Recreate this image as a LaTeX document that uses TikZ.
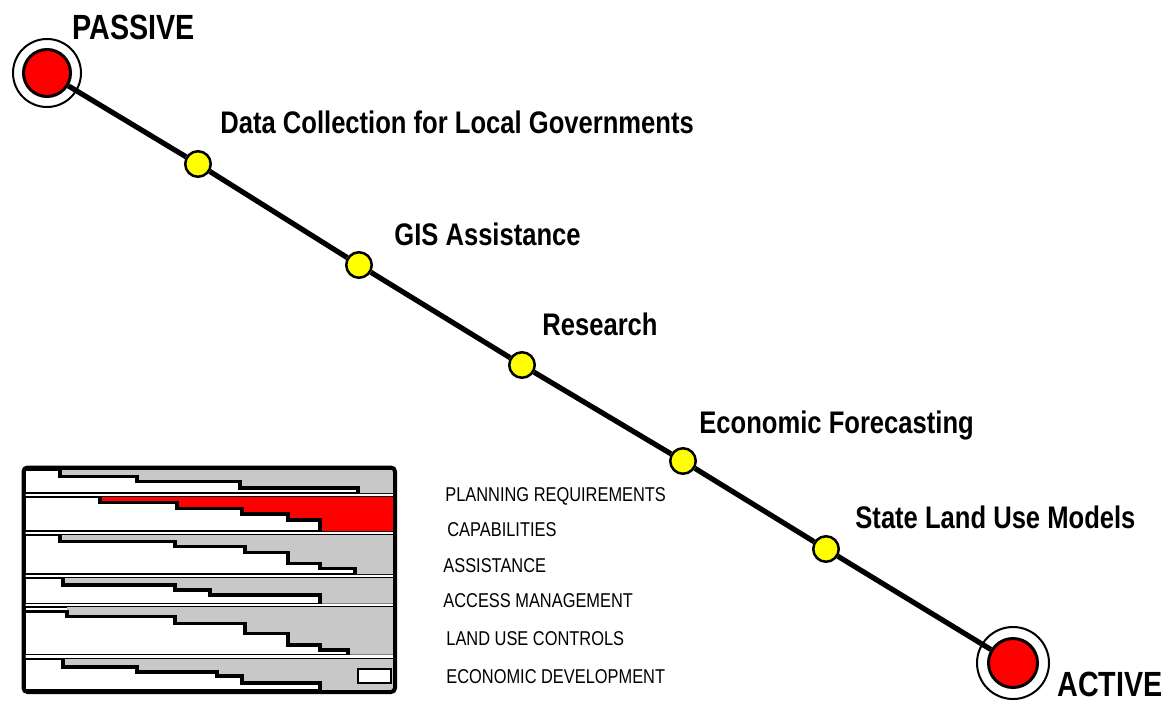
\documentclass[tikz,border=0pt]{standalone}
\usepackage{fontspec}
\setmainfont{Liberation Sans}[FakeStretch=0.82]
\usepackage{tikz}
\usepackage{xcolor}
\definecolor{hubred}{RGB}{255,0,0}
\definecolor{stopyellow}{RGB}{255,255,0}
\definecolor{bargray}{RGB}{200,200,200}
\tikzset{
    hub-ring/.style = {draw=black, fill=white, line width=1pt, circle, minimum size=34pt, inner sep=0pt},
    hub-dot/.style = {draw=black, fill=hubred, line width=1.5pt, circle, minimum size=23.5pt, inner sep=0pt},
    stop-dot/.style = {draw=black, fill=stopyellow, line width=1.25pt, circle, minimum size=12.75pt, inner sep=0pt},
    track/.style = {line width=2.6pt},
    pole-label/.style = {font=\fontsize{17.5}{20}\selectfont\bfseries, anchor=base west, inner sep=0pt},
    stage-label/.style = {font=\fontsize{15.6}{18}\selectfont\bfseries, anchor=base west, inner sep=0pt},
    bar-label/.style = {font=\fontsize{10}{12}\selectfont, anchor=base west, inner sep=0pt},
    bar-row/.style = {draw=black, fill=white, line width=0.75pt},
    bar-step/.style = {draw=black, line width=1.6pt},
}

\begin{document}
\begin{tikzpicture}[x=0.5pt, y=-0.5pt]
\useasboundingbox (0,0) rectangle (1165,702);

% the two ends and the stops between them
\node[hub-ring] (passive-ring) at (47,73) {};
\node[hub-ring, minimum size=36pt] (active-ring) at (1013,663) {};
\node[hub-dot] (passive) at (47,73) {};
\node[hub-dot, minimum size=24.5pt] (active) at (1013,663) {};
\node[stop-dot] (data) at (198,164) {};
\node[stop-dot] (gis) at (359,265) {};
\node[stop-dot] (research) at (522,365) {};
\node[stop-dot] (forecast) at (683,461) {};
\node[stop-dot] (models) at (826,549) {};
\draw[track] (passive) -- (data) -- (gis) -- (research) -- (forecast) -- (models) -- (active);

\node[pole-label] (passive-label) at (72,39) {PASSIVE};
\node[pole-label] (active-label) at (1057,696) {ACTIVE};
\node[stage-label] (data-label) at (220,133) {Data Collection for Local Governments};
\node[stage-label] (gis-label) at (394,245) {GIS Assistance};
\node[stage-label] (research-label) at (542,335) {Research};
\node[stage-label] (forecast-label) at (699,433) {Economic Forecasting};
\node[stage-label] (models-label) at (855,528) {State Land Use Models};

% bar chart
\draw[bar-row] (25,470) rectangle (393,493);
\fill[bargray] (60,470) |- (137,476.7) |- (240,481.7) |- (358,488) |- (393,493) -- (393,470) -- cycle;
\draw[bar-step] (60,470) |- (137,476.7) |- (240,481.7) |- (358,488) -- (358,493);

\draw[bar-row] (25,497) rectangle (393,531);
\fill[hubred] (100,497) |- (177,502.7) |- (242,508.3) |- (288,514) |- (320,520) |- (393,531) -- (393,497) -- cycle;
\draw[bar-step] (100,497) |- (177,502.7) |- (242,508.3) |- (288,514) |- (320,520) -- (320,531);

\draw[bar-row] (25,535) rectangle (393,574);
\fill[bargray] (60,535) |- (175,541.7) |- (245,546.7) |- (288,552.7) |- (320,563.3) |- (355,568.3) |- (393,574) -- (393,535) -- cycle;
\draw[bar-step] (60,535) |- (175,541.7) |- (245,546.7) |- (288,552.7) |- (320,563.3) |- (355,568.3) -- (355,574);

\draw[bar-row] (25,578) rectangle (393,603.5);
\fill[bargray] (63,578) |- (175,585) |- (210,590) |- (320,595) |- (393,603.5) -- (393,578) -- cycle;
\draw[bar-step] (63,578) |- (175,585) |- (210,590) |- (320,595) -- (320,603.5);

\draw[bar-row] (25,607) rectangle (393,654.5);
\fill[bargray] (67,607) |- (175,616.7) |- (245,623.3) |- (288,633.3) |- (320,645) |- (348,650) |- (393,654.5) -- (393,607) -- cycle;
\draw[bar-step] (25,611.7) -| (67,616.7) -- (175,616.7) |- (245,623.3) |- (288,633.3) |- (320,645) |- (348,650) -- (348,654.5);

\draw[bar-row] (25,659) rectangle (393,690);
\fill[bargray] (63,659) |- (137,667) |- (217,672) |- (242,676) |- (320,683) |- (393,690) -- (393,659) -- cycle;
\draw[bar-step] (63,659) |- (137,667) |- (217,672) |- (242,676) |- (320,683) -- (320,690);
\draw[fill=white, line width=1.2pt] (358,669) rectangle (391,683);

\draw[line width=2pt, rounded corners=2pt] (23.5,467.5) rectangle (395,692);

\node[bar-label] (planning) at (445,501.7) {PLANNING REQUIREMENTS};
\node[bar-label] (capabilities) at (447,536.7) {CAPABILITIES};
\node[bar-label] (assistance) at (443,572.3) {ASSISTANCE};
\node[bar-label] (access) at (443,607.3) {ACCESS MANAGEMENT};
\node[bar-label] (controls) at (446,645) {LAND USE CONTROLS};
\node[bar-label] (economic) at (446,683.3) {ECONOMIC DEVELOPMENT};
\end{tikzpicture}
\end{document}
